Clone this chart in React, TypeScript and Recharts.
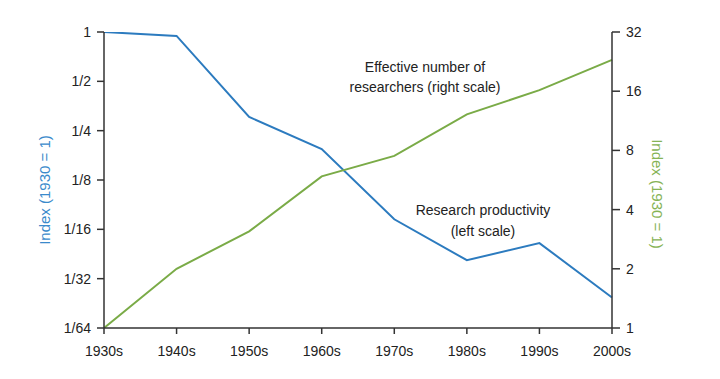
import { LineChart, Line, XAxis, YAxis } from 'recharts';

const decades = ['1930s', '1940s', '1950s', '1960s', '1970s', '1980s', '1990s', '2000s'];
const productivity = [1, 0.946, 0.303, 0.193, 0.072, 0.0405, 0.0515, 0.024];
const researchers = [1, 2, 3.1, 5.9, 7.5, 12.2, 16.2, 23.1];

const leftTicks = [1 / 64, 1 / 32, 1 / 16, 1 / 8, 1 / 4, 1 / 2, 1];
const leftTickLabels = ['1/64', '1/32', '1/16', '1/8', '1/4', '1/2', '1'];
const rightTicks = [1, 2, 4, 8, 16, 32];

const BLUE = '#2c7bbf';
const GREEN = '#7aab47';
const FONT = '"Liberation Sans", Arial, Helvetica, sans-serif';

const data = decades.map((d, i) => ({ decade: d, productivity: productivity[i], researchers: researchers[i] }));

const tickStyle = { fontSize: 14, fill: '#222', fontFamily: FONT };

function leftLabel(v: number) {
  const i = leftTicks.findIndex(t => Math.abs(t - v) < 1e-9);
  return i >= 0 ? leftTickLabels[i] : '';
}

export default function App() {
  return (
    <div style={{ position: 'absolute', left: 0, top: 0, width: 720, height: 379, background: '#fff' }}>
      <LineChart width={720} height={379} data={data} margin={{ top: 32, right: 48, bottom: 19, left: 44 }}>
        <XAxis
          dataKey="decade"
          axisLine={{ stroke: '#333', strokeWidth: 1.5 }}
          tickLine={{ stroke: '#333', strokeWidth: 1.5 }}
          tickSize={6}
          tickMargin={12}
          height={32}
          tick={tickStyle}
          interval={0}
        />
        <YAxis
          yAxisId="left"
          scale="log"
          domain={[1 / 64, 1]}
          ticks={leftTicks}
          tickFormatter={leftLabel}
          allowDataOverflow
          width={60}
          axisLine={{ stroke: '#333', strokeWidth: 1.5 }}
          tickLine={{ stroke: '#333', strokeWidth: 1.5 }}
          tickSize={7}
          tickMargin={6}
          tick={tickStyle}
          interval={0}
        />
        <YAxis
          yAxisId="right"
          orientation="right"
          scale="log"
          domain={[1, 32]}
          ticks={rightTicks}
          allowDataOverflow
          width={60}
          axisLine={{ stroke: '#333', strokeWidth: 1.5 }}
          tickLine={{ stroke: '#333', strokeWidth: 1.5 }}
          tickSize={8}
          tickMargin={6}
          tick={{ ...tickStyle, textAnchor: 'start' }}
          interval={0}
        />
        <Line yAxisId="left" type="linear" dataKey="productivity" stroke={BLUE} strokeWidth={2} dot={false} isAnimationActive={false} />
        <Line yAxisId="right" type="linear" dataKey="researchers" stroke={GREEN} strokeWidth={2} dot={false} isAnimationActive={false} />
      </LineChart>
      <svg width={720} height={379} style={{ position: 'absolute', left: 0, top: 0, pointerEvents: 'none' }}>
        <g fontFamily={FONT} fontSize={14} fill="#222" textAnchor="middle">
          <text x={425} y={72}>Effective number of</text>
          <text x={425} y={92}>researchers (right scale)</text>
          <text x={483} y={215}>Research productivity</text>
          <text x={483} y={236}>(left scale)</text>
        </g>
        <text x={50} y={190} transform="rotate(-90 50 190)" textAnchor="middle" fontFamily={FONT} fontSize={15} fill="#3a8acb">
          Index (1930 = 1)
        </text>
        <text x={652} y={194} transform="rotate(90 652 194)" textAnchor="middle" fontFamily={FONT} fontSize={15} fill="#86b355">
          Index (1930 = 1)
        </text>
      </svg>
    </div>
  );
}
